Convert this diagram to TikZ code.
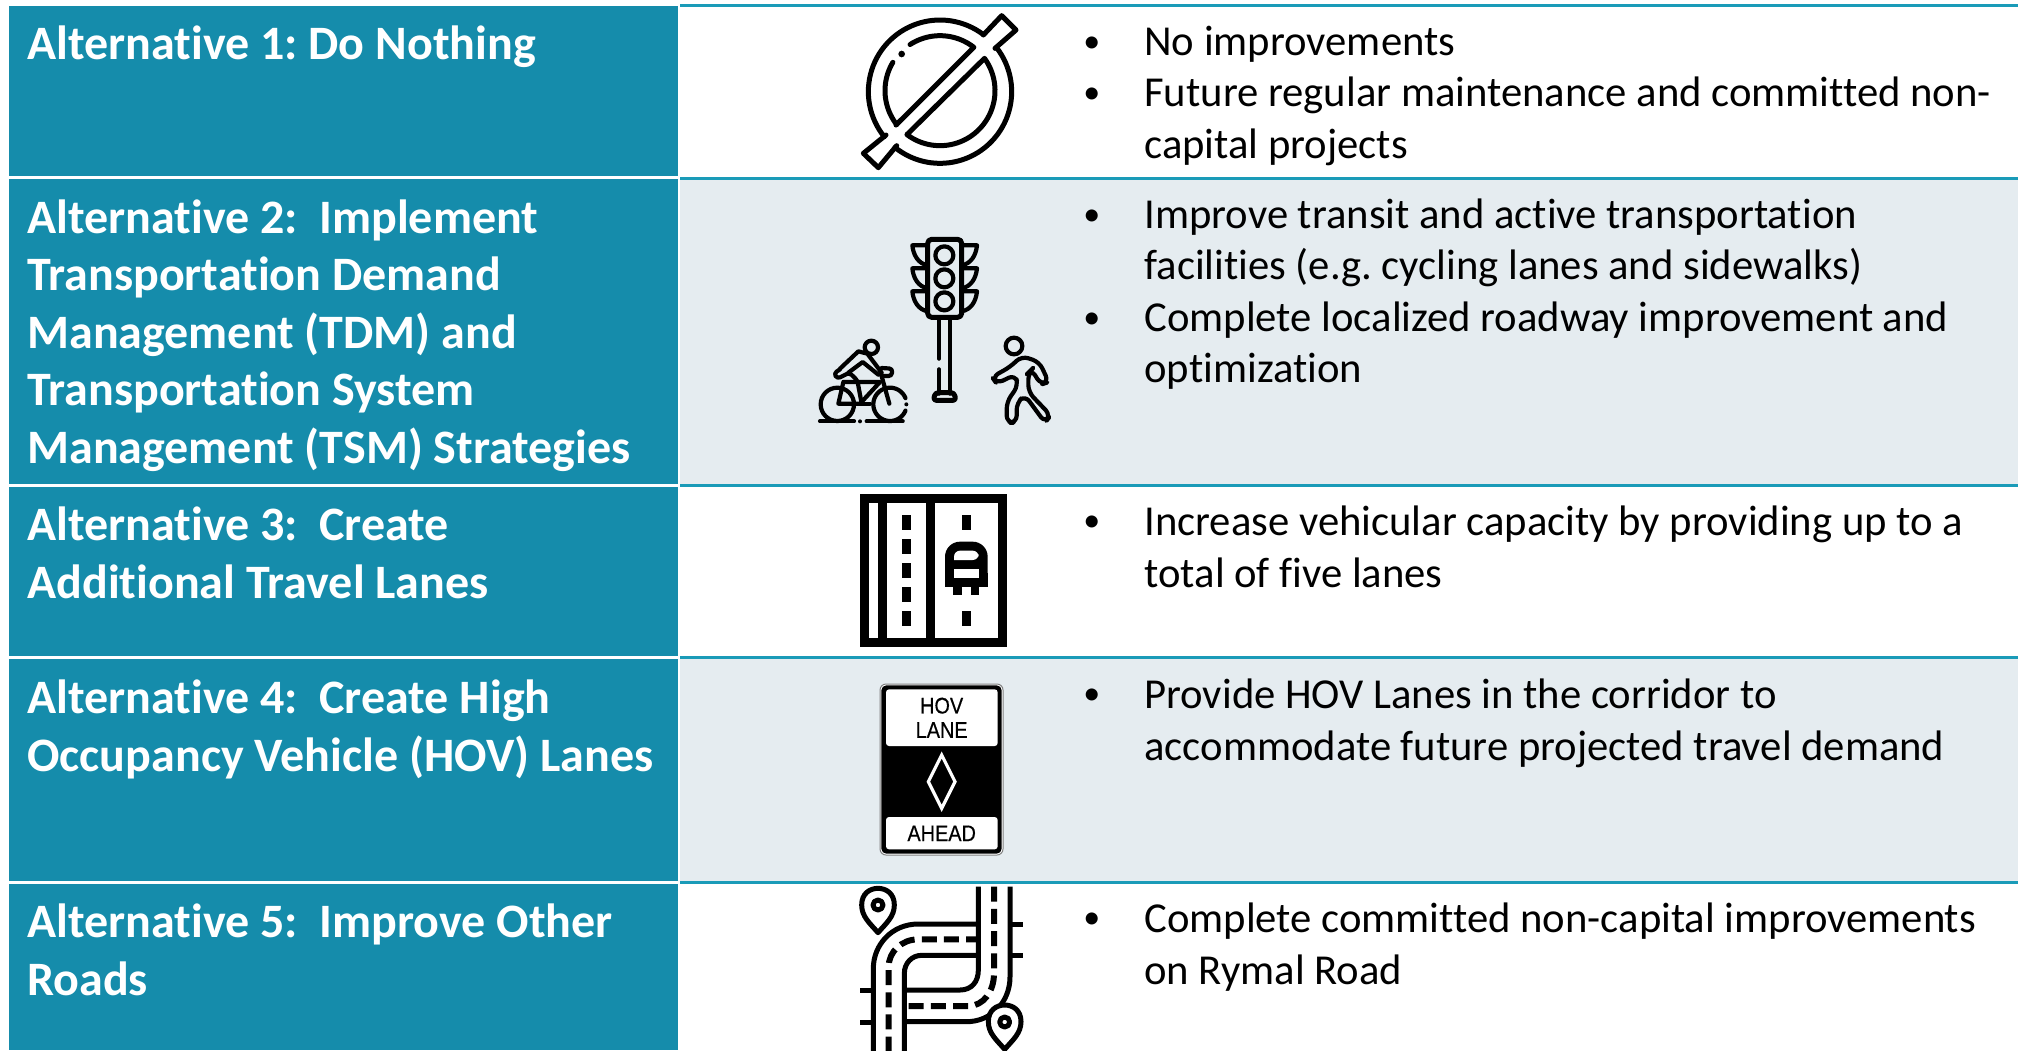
\documentclass[tikz,border=0pt]{standalone}
\usepackage{fontspec}
\setmainfont[Ligatures=CommonOff]{Carlito}
\newfontfamily\signfont[FakeStretch=0.88,FakeBold=0.4]{Liberation Sans}
\frenchspacing
\definecolor{teal}{HTML}{158CAB}
\definecolor{rule}{HTML}{1A9BB8}
\definecolor{band}{HTML}{E5ECF0}
\tikzset{
  titlebox/.style={fill=teal,draw=none},
  rowrule/.style={draw=rule,line width=1.5pt},
  titletext/.style={anchor=base west,inner sep=0pt,text=white,font=\fontsize{24}{27}\selectfont\bfseries},
  bodytext/.style={anchor=base west,inner sep=0pt,text=black,font=\fontsize{21.33}{25}\selectfont},
  bullettext/.style={anchor=base west,inner sep=0pt,text=black,font=\fontsize{17}{25}\selectfont},
  ic/.style={draw=black,line width=2.5pt,line cap=round,line join=round},
  icfine/.style={ic,line width=2.1pt},
  signtext/.style={anchor=center,inner sep=0pt,text=black,font=\signfont\fontsize{11.3}{12}\selectfont},
}
\newcommand{\parc}[6][ic]{\draw[#1] plot[domain=#5:#6,samples=48] ({#2+#4*cos(\x)},{#3+#4*sin(\x)});}
\begin{document}
\begin{tikzpicture}[x=0.5pt,y=-0.5pt]
\useasboundingbox (0,0) rectangle (2018,1050);
\clip (0,0) rectangle (2018,1050);
\fill[white] (0,0) rectangle (2018,1050);
% left column
\fill[titlebox] (9,6) rectangle (678,176);
\fill[titlebox] (9,179) rectangle (678,484);
\fill[titlebox] (9,487) rectangle (678,656);
\fill[titlebox] (9,659) rectangle (678,881);
\fill[titlebox] (9,884) rectangle (678,1050);
% right column
\fill[band] (680,178) rectangle (2018,485);
\fill[band] (680,657) rectangle (2018,882);
\foreach \yy in {5,178,485,657,882} \draw[rowrule] (680,\yy) -- (2018,\yy);
% title text
\node[titletext] (t1a) at (27,59) {Alternative 1: Do Nothing};
\node[titletext] (t2a) at (27,233) {Alternative 2:\ \ Implement};
\node[titletext] (t2b) at (27,290) {Transportation Demand};
\node[titletext] (t2c) at (27,348) {Management (TDM) and};
\node[titletext] (t2d) at (27,405) {Transportation System};
\node[titletext] (t2e) at (27,463) {Management (TSM) Strategies};
\node[titletext] (t3a) at (27,540) {Alternative 3:\ \ Create};
\node[titletext] (t3b) at (27,598) {Additional Travel Lanes};
\node[titletext] (t4a) at (27,713) {Alternative 4:\ \ Create High};
\node[titletext] (t4b) at (27,771) {Occupancy Vehicle (HOV) Lanes};
\node[titletext] (t5a) at (27,937) {Alternative 5:\ \ Improve Other};
\node[titletext] (t5b) at (27,995) {Roads};
% bullets
\foreach \nm/\yy in {a/52,b/103,c/225,d/328,e/531,f/704,g/928}
  \node[bullettext] (bul\nm) at (1083,\yy) {•};
% body text
\node[bodytext] (b1a) at (1144,55) {No improvements};
\node[bodytext] (b1b) at (1144,106) {Future regular maintenance and committed non-};
\node[bodytext] (b1c) at (1144,158) {capital projects};
\node[bodytext] (b2a) at (1144,228) {Improve transit and active transportation};
\node[bodytext] (b2b) at (1144,279) {facilities (e.g. cycling lanes and sidewalks)};
\node[bodytext] (b2c) at (1144,331) {Complete localized roadway improvement and};
\node[bodytext] (b2d) at (1144,382) {optimization};
\node[bodytext] (b3a) at (1144,535) {Increase vehicular capacity by providing up to a};
\node[bodytext] (b3b) at (1144,587) {total of five lanes};
\node[bodytext] (b4a) at (1144,708) {Provide HOV Lanes in the corridor to};
\node[bodytext] (b4b) at (1144,760) {accommodate future projected travel demand};
\node[bodytext] (b5a) at (1144,932) {Complete committed non-capital improvements};
\node[bodytext] (b5b) at (1144,984) {on Rymal Road};
% icon 1: no symbol
\begin{scope}[shift={(780,0)},x=0.16667pt,y=-0.16667pt]
  \parc{480}{275}{215}{-38}{129}
  \parc{480}{275}{215}{141}{307}
  \draw[ic] (610,105) -- (665,47) -- (708,90) -- (645,145);
  \draw[ic] (318,405) -- (250,460) -- (295,503) -- (350,437);
  \draw[ic] plot[domain=142:211,samples=24] ({480+165*cos(\x)},{272+165*sin(\x)});
  \draw[ic] plot[domain=237:308,samples=24] ({480+165*cos(\x)},{272+165*sin(\x)}) -- (348,375);
  \draw[ic] plot[domain=-36:127,samples=48] ({480+165*cos(\x)},{272+165*sin(\x)}) -- cycle;
  \fill[black] (365,162) circle[radius=10];
\end{scope}
% icon 2: traffic light, cyclist, pedestrian
\begin{scope}[shift={(780,212)},x=0.16667pt,y=-0.16667pt]
  \draw[ic,rounded corners=2pt] (443,82) rectangle (545,316);
  \foreach \cy in {130,199,268} {
    \draw[icfine] (493,\cy) circle[radius=27];
    \draw[icfine] (443,\cy-30) -- (397,\cy-30) .. controls (400,\cy) and (415,\cy+25) .. (443,\cy+30);
    \draw[icfine] (545,\cy-30) -- (591,\cy-30) .. controls (588,\cy) and (573,\cy+25) .. (545,\cy+30);
  }
  \draw[icfine] (477,316) -- (477,440);
  \draw[icfine] (477,472) -- (477,545);
  \draw[icfine] (510,316) -- (510,545);
  \draw[ic,rounded corners=1.5pt] (460,565) -- (528,565) -- (522,542) -- (466,542) -- cycle;
  % cyclist
  \draw[icfine] (172,577) circle[radius=50];
  \parc[icfine]{330}{577}{50}{22}{338}
  \fill[black] (379,577) circle[radius=6];
  \draw[icfine] (274,406) circle[radius=20];
  \draw[icfine] (180,470) -- (235,418) -- (262,425) -- (305,482);
  \draw[icfine] (205,482) -- (248,450) -- (295,488);
  \draw[icfine,rounded corners=1.5pt] (180,472) -- (162,484) -- (172,500) -- (208,482) -- (232,505) -- (245,575);
  \draw[icfine] (190,510) -- (175,575) -- (240,575) -- (300,510) -- (190,510);
  \draw[icfine] (240,575) -- (270,575);
  \draw[icfine] (300,475) -- (328,575);
  \draw[icfine,rounded corners=1.5pt] (305,468) -- (337,470) -- (335,492) -- (308,492);
  \draw[icfine] (120,628) -- (222,628);
  \fill[black] (240,628) circle[radius=6];
  \draw[icfine] (260,628) -- (368,628);
  % pedestrian
  \draw[icfine] (702,402) circle[radius=25];
  \draw[icfine,rounded corners=3.5pt] (725,432) -- (778,450) -- (806,510) -- (782,518) -- (755,472) -- (745,482) -- (745,540) -- (812,610) -- (795,632) -- (735,550) -- (710,572) -- (710,632) -- (680,632) -- (680,570) -- (715,520) -- (705,488) -- (650,515) -- (636,495) -- (690,465) -- cycle;
\end{scope}
% icon 3: road with bus
\begin{scope}[shift={(840,480)},x=0.16667pt,y=-0.16667pt]
  \fill[black] (60,42) rectangle (500,500);
  \fill[white] (87,69) rectangle (115,473);
  \fill[white] (142,69) rectangle (258,473);
  \fill[white] (285,69) rectangle (473,473);
  \foreach \yy in {105,177,249,320,392} \fill[black] (187,\yy) rectangle (214,\yy+45);
  \foreach \yy in {105,392} \fill[black] (366,\yy) rectangle (392,\yy+45);
  \fill[black,rounded corners=7.5pt] (315,320) -- (315,185) -- (443,185) -- (443,320) [sharp corners] -- cycle;
  \fill[black] (315,280) rectangle (443,320);
  \fill[black] (339,320) rectangle (365,346);
  \fill[black] (392,320) rectangle (418,346);
  \fill[white,rounded corners=3pt] (342,240) -- (342,212) -- (416,212) -- (416,240) [sharp corners] -- cycle;
  \fill[white] (342,267) rectangle (416,293);
\end{scope}
% icon 4: HOV sign
\begin{scope}[shift={(860,670)},x=0.16667pt,y=-0.16667pt]
  \draw[draw=gray,fill=white,line width=0.5pt,rounded corners=3pt] (60,42) rectangle (429,555);
  \fill[black,rounded corners=2.5pt] (64,46) rectangle (425,551);
  \fill[white,rounded corners=1.5pt] (78,58) rectangle (413,228);
  \fill[white,rounded corners=1.5pt] (78,441) rectangle (413,538);
  \node[signtext] (hov) at (245,107) {HOV};
  \node[signtext] (lane) at (245,180) {LANE};
  \node[signtext] (ahead) at (245,490) {AHEAD};
  \draw[white,line width=1.6pt,line join=miter] (245,255) -- (285,335) -- (245,415) -- (205,335) -- cycle;
\end{scope}
% icon 5: roads with pins
\begin{scope}[shift={(840,870)},x=0.16667pt,y=-0.16667pt]
  \draw[ic,line cap=butt] (415,50) -- (415,300) .. controls (415,335) and (395,360) .. (360,360) -- (193,360);
  \draw[ic,line cap=butt] (510,50) -- (510,320) .. controls (510,400) and (450,455) .. (380,455) -- (193,455);
  \draw[ic,line cap=butt] (415,162) -- (235,162) .. controls (155,162) and (100,225) .. (100,295) -- (100,545);
  \draw[ic,line cap=butt] (415,256) -- (245,256) .. controls (215,256) and (193,280) .. (193,310) -- (193,545);
  \draw[black,line width=3pt,dash pattern=on 7.5pt off 3.6pt] (462,50) -- (462,310) .. controls (462,365) and (430,408) .. (385,408) -- (193,408);
  \draw[black,line width=3pt,dash pattern=on 7.5pt off 3.6pt] (146,545) -- (146,290) .. controls (146,245) and (185,208) .. (235,208) -- (410,208);
  \foreach \yy in {162,256} \draw[ic,line cap=butt] (510,\yy) -- (550,\yy);
  \foreach \yy in {360,456} \draw[ic,line cap=butt] (60,\yy) -- (100,\yy);
  \draw[ic,fill=white] (114,188) .. controls (90,160) and (65,140) .. (65,105) .. controls (65,70) and (90,55) .. (114,55) .. controls (138,55) and (163,70) .. (163,105) .. controls (163,140) and (138,160) .. (114,188) -- cycle;
  \draw[ic] (114,105) circle[radius=15];
  \draw[ic,fill=white] (494,538) .. controls (470,510) and (445,490) .. (445,455) .. controls (445,420) and (470,405) .. (494,405) .. controls (518,405) and (543,420) .. (543,455) .. controls (543,490) and (518,510) .. (494,538) -- cycle;
  \draw[ic] (494,456) circle[radius=15];
\end{scope}
\end{tikzpicture}
\end{document}
